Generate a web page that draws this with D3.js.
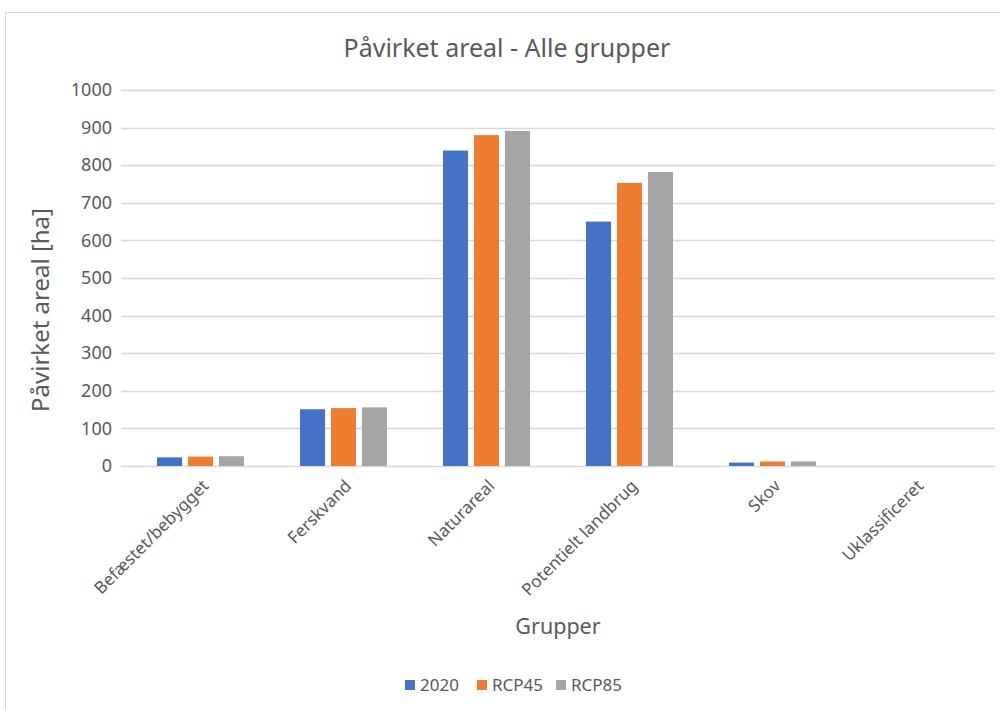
<!DOCTYPE html>
<html>
<head>
<meta charset="utf-8">
<script src="https://cdn.jsdelivr.net/npm/d3@7"></script>
<style>
  html, body { margin: 0; padding: 0; background: #fff; }
  svg { display: block; }
  text { font-family: "Noto Sans", "Open Sans", sans-serif; fill: #595959; }
</style>
</head>
<body>
<svg id="chart" width="1000" height="709"></svg>
<script>
// Affected area per land group (ha) for the present and two climate scenarios
const categories = ["Befæstet/bebygget", "Ferskvand", "Naturareal", "Potentielt landbrug", "Skov", "Uklassificeret"];
const seriesNames = ["2020", "RCP45", "RCP85"];
const values2020  = [23, 151, 839, 650, 9, 0];
const valuesRCP45 = [25, 154, 880, 753, 12, 0];
const valuesRCP85 = [26, 156, 891, 782, 12, 0];
const seriesColors = ["#4472C4", "#ED7D31", "#A5A5A5"];
const yTicks = [0, 100, 200, 300, 400, 500, 600, 700, 800, 900, 1000];

const seriesValues = [values2020, valuesRCP45, valuesRCP85];

const svg = d3.select("#chart");

// chart frame
svg.append("rect")
  .attr("x", 5.5).attr("y", 12.5)
  .attr("width", 1000).attr("height", 700)
  .attr("fill", "#fff").attr("stroke", "#d9d9d9");

const plot = { left: 129, right: 987, top: 90, bottom: 466 };
const grid = { left: 121, right: 995 };

const x0 = d3.scaleBand().domain(categories).range([plot.left, plot.right]).padding(0);
const groupInset = 28;
const x1 = d3.scaleBand().domain(seriesNames)
  .range([groupInset, x0.bandwidth() - groupInset]).paddingInner(0.19);
const y = d3.scaleLinear().domain([0, 1000]).range([plot.bottom, plot.top]);

// gridlines
svg.append("g").selectAll("line").data(yTicks).join("line")
  .attr("x1", grid.left).attr("x2", grid.right)
  .attr("y1", d => Math.round(y(d)) + 0.5).attr("y2", d => Math.round(y(d)) + 0.5)
  .attr("stroke", "#d9d9d9").attr("stroke-width", 1.3);

// y tick labels
const yAxis = d3.axisLeft(y).tickValues(yTicks).tickFormat(d3.format("d")).tickSize(0).tickPadding(9);
const yg = svg.append("g").attr("transform", `translate(${grid.left},0)`).call(yAxis);
yg.select(".domain").remove();
yg.selectAll("text").style("font-size", "18px").attr("fill", "#595959")
  .style("font-family", "'Noto Sans', sans-serif");

// bars
const groups = svg.append("g").selectAll("g").data(categories).join("g")
  .attr("transform", d => `translate(${x0(d)},0)`);
groups.selectAll("rect")
  .data((c, i) => seriesNames.map((s, j) => ({ s, v: seriesValues[j][i], color: seriesColors[j] })))
  .join("rect")
  .attr("x", d => x1(d.s))
  .attr("width", x1.bandwidth())
  .attr("y", d => y(d.v))
  .attr("height", d => y(0) - y(d.v))
  .attr("fill", d => d.color);

// x category labels, rotated
const xAxis = d3.axisBottom(x0).tickSize(0).tickPadding(0);
const xg = svg.append("g").attr("transform", `translate(0,${plot.bottom})`).call(xAxis);
xg.select(".domain").remove();
xg.selectAll("text")
  .style("font-size", "17px").attr("fill", "#595959")
  .style("font-family", "'Noto Sans', sans-serif")
  .attr("text-anchor", "end")
  .attr("dy", "0")
  .attr("transform", "translate(9,21) rotate(-45)");

// title
svg.append("text")
  .attr("x", 507).attr("y", 57)
  .attr("text-anchor", "middle")
  .style("font-size", "25px")
  .text("Påvirket areal - Alle grupper");

// axis titles
svg.append("text")
  .attr("transform", "translate(49,310) rotate(-90)")
  .attr("text-anchor", "middle")
  .style("font-size", "24px")
  .text("Påvirket areal [ha]");

svg.append("text")
  .attr("x", 558).attr("y", 634)
  .attr("text-anchor", "middle")
  .style("font-size", "21.5px")
  .text("Grupper");

// legend
const legendItems = [{ name: seriesNames[0], x: 405 }, { name: seriesNames[1], x: 477 }, { name: seriesNames[2], x: 556 }];
const legend = svg.append("g").selectAll("g").data(legendItems).join("g")
  .attr("transform", d => `translate(${d.x},680)`);
legend.append("rect").attr("width", 10).attr("height", 10)
  .attr("fill", (d, i) => seriesColors[i]);
legend.append("text").attr("x", 15).attr("y", 11)
  .style("font-size", "17px")
  .text(d => d.name);
</script>
</body>
</html>
